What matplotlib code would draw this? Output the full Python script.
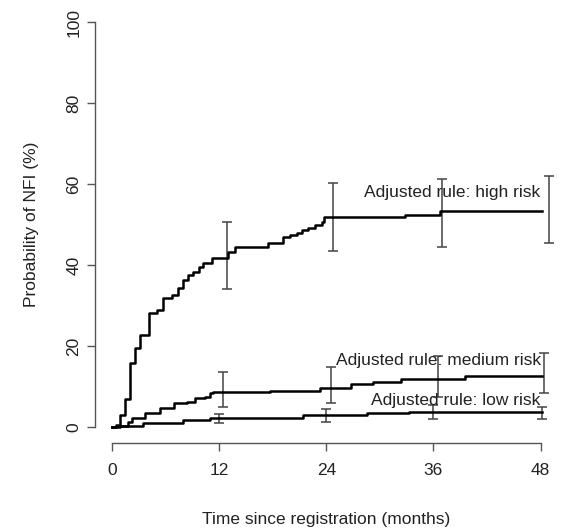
import numpy as np
from matplotlib import pyplot as plt

plt.rcParams['font.family'] = ['Liberation Sans', 'DejaVu Sans']

# Cumulative incidence curves (step functions), months vs %
high_t = [0, 0.5, 0.9, 1.45, 2.0, 2.6, 3.1, 4.1, 5.1, 5.7, 6.7, 7.4, 8.0, 8.5, 9.1, 9.8,
          10.2, 11.2, 13.0, 13.8, 17.5, 19.1, 19.9, 20.7, 21.3, 21.9, 22.7, 23.5, 23.8,
          32.8, 36.7, 48.1]
high_p = [0, 0.5, 3.0, 7.0, 15.8, 19.5, 22.7, 28.1, 28.9, 31.9, 32.6, 34.3, 36.3, 37.5, 38.3, 39.5,
          40.5, 41.7, 43.2, 44.4, 45.4, 46.9, 47.4, 47.9, 48.6, 49.1, 49.9, 50.6, 51.9,
          52.4, 53.3, 53.3]

med_t = [0, 0.9, 1.8, 2.3, 3.7, 5.4, 7.0, 8.4, 9.3, 10.4, 11.0, 11.3, 17.7, 23.3, 26.8,
         29.2, 32.4, 39.5, 48.1]
med_p = [0, 0.3, 1.2, 2.2, 3.5, 4.7, 5.9, 6.2, 7.2, 7.4, 8.4, 8.6, 8.9, 9.6, 10.6,
         11.1, 11.8, 12.6, 12.6]

low_t = [0, 0.5, 3.5, 8.0, 11.0, 21.4, 28.6, 33.3, 48.1]
low_p = [0, 0.2, 1.0, 1.7, 2.2, 3.0, 3.4, 3.6, 3.6]

# Confidence intervals
high_ci_t = [12.9, 24.8, 37.0, 48.9]
high_ci_lo = [34.1, 43.5, 44.4, 45.4]
high_ci_hi = [50.6, 60.2, 61.2, 62.0]

med_ci_t = [12.4, 24.5, 36.5, 48.4]
med_ci_lo = [4.9, 5.9, 7.4, 8.4]
med_ci_hi = [13.6, 14.8, 17.5, 18.3]

low_ci_t = [12.0, 24.0, 36.0, 48.1]
low_ci_lo = [1.0, 1.2, 2.0, 2.0]
low_ci_hi = [3.2, 4.4, 5.3, 5.0]

labels = ['Adjusted rule: high risk', 'Adjusted rule: medium risk', 'Adjusted rule: low risk']
label_y = [57.8, 16.5, 6.4]

x_ticks = [0, 12, 24, 36, 48]
y_ticks = [0, 20, 40, 60, 80, 100]

fig = plt.figure(figsize=(5.64, 5.30), dpi=100)
ax = fig.add_axes([0.168, 0.164, 0.821, 0.825])

axis_col = '#555555'
text_col = '#222222'
fs = 12.5

for t, p in [(high_t, high_p), (med_t, med_p), (low_t, low_p)]:
    ax.step(t, p, where='post', color='black', lw=1.8, zorder=3)

for ct, lo, hi in [(high_ci_t, high_ci_lo, high_ci_hi),
                   (med_ci_t, med_ci_lo, med_ci_hi),
                   (low_ci_t, low_ci_lo, low_ci_hi)]:
    lo = np.array(lo)
    hi = np.array(hi)
    mid = (lo + hi) / 2
    ax.errorbar(ct, mid, yerr=[mid - lo, hi - mid], fmt='none', ecolor='#444444',
                elinewidth=1.1, capsize=3.5, capthick=1.1, zorder=2)

for lab, y in zip(labels, label_y):
    ax.text(48, y, lab, ha='right', va='center', fontsize=fs, color=text_col, zorder=4)

ax.set_xlim(-1.92, 49.92)
ax.set_ylim(-4, 104)

ax.spines['top'].set_visible(False)
ax.spines['right'].set_visible(False)
ax.spines['left'].set_bounds(0, 100)
ax.spines['bottom'].set_bounds(0, 48)
for s in ['left', 'bottom']:
    ax.spines[s].set_color(axis_col)
    ax.spines[s].set_linewidth(1.0)

ax.set_xticks(x_ticks)
ax.set_yticks(y_ticks)
ax.set_yticklabels([str(v) for v in y_ticks], rotation=90, va='center')
ax.tick_params(axis='both', colors=axis_col, labelcolor=text_col, labelsize=fs,
               length=5.5, width=1.0)
ax.tick_params(axis='x', pad=9)
ax.tick_params(axis='y', pad=4)

ax.set_xlabel('Time since registration (months)', fontsize=fs, color=text_col, labelpad=24)
ax.set_ylabel('Probability of NFI (%)', fontsize=fs, color=text_col, labelpad=20)

fig.savefig('out.png', dpi=100)
